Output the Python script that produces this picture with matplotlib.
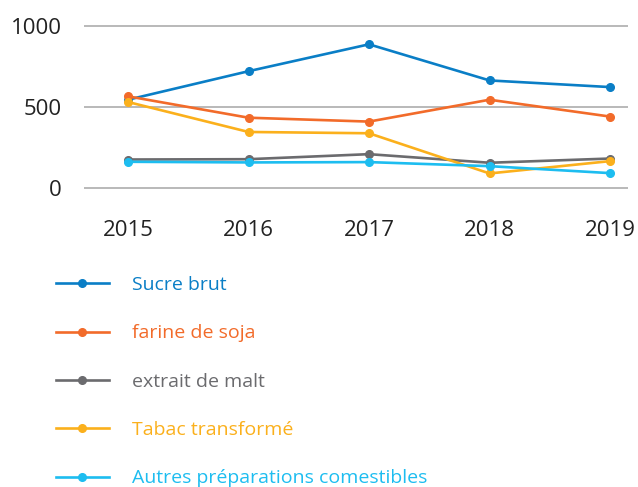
import matplotlib.pyplot as plt

plt.rcParams['font.family'] = ['Open Sans', 'DejaVu Sans']

years = [2015, 2016, 2017, 2018, 2019]
sucre_brut = [545, 721, 887, 664, 623]
farine_soja = [566, 434, 410, 545, 441]
extrait_malt = [176, 178, 209, 156, 182]
tabac = [531, 346, 338, 90, 166]
autres = [162, 158, 160, 135, 92]

series = [
    ("Sucre brut", sucre_brut, "#0a7ec6"),
    ("farine de soja", farine_soja, "#f26b2a"),
    ("extrait de malt", extrait_malt, "#6b6b6e"),
    ("Tabac transformé", tabac, "#fbb01c"),
    ("Autres préparations comestibles", autres, "#1dbdf0"),
]

fig = plt.figure(figsize=(6.38, 4.87), dpi=100)
ax = fig.add_axes([84 / 638, 1 - 195 / 487, 544 / 638, 175 / 487])

handles = []
for label, vals, col in series:
    h, = ax.plot(years, vals, color=col, lw=1.9, marker='o', ms=5.5,
                 label=label, zorder=3)
    handles.append(h)

ax.set_xlim(2014.635, 2019.149)
ax.set_ylim(-43, 1037)
ax.set_yticks([0, 500, 1000])
ax.set_xticks(years)
ax.grid(axis='y', color='#a6a6a6', lw=1.1)
ax.set_axisbelow(True)
for s in ax.spines.values():
    s.set_visible(False)
ax.tick_params(axis='both', length=0, labelsize=16, colors='#222222')
ax.tick_params(axis='y', pad=16)
ax.tick_params(axis='x', pad=18)

fig.legend(handles=handles, loc='upper left', bbox_to_anchor=(56 / 638, 1 - 276 / 487),
           frameon=False, fontsize=14, labelcolor='linecolor', handlelength=2.7,
           handletextpad=1.2, labelspacing=1.56, borderpad=0, borderaxespad=0)

fig.savefig('out.png', dpi=100)
